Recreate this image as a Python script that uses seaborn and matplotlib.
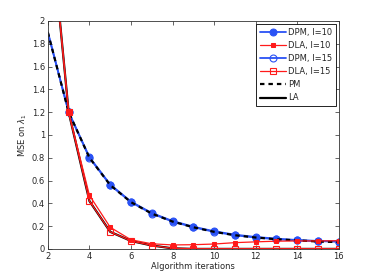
import numpy as np
import pandas as pd
import matplotlib
matplotlib.use("Agg")
import matplotlib.pyplot as plt
import seaborn as sns

iters = [2, 3, 4, 5, 6, 7, 8, 9, 10, 11, 12, 13, 14, 15, 16]
pm = [1.9, 1.2, 0.8, 0.56, 0.41, 0.31, 0.24, 0.19, 0.15, 0.12, 0.10, 0.085, 0.075, 0.065, 0.06]
dpm10 = [1.9, 1.2, 0.805, 0.565, 0.415, 0.315, 0.245, 0.195, 0.155, 0.125, 0.105, 0.09, 0.078, 0.07, 0.065]
dpm15 = [1.9, 1.2, 0.8, 0.56, 0.41, 0.31, 0.24, 0.19, 0.15, 0.12, 0.10, 0.085, 0.075, 0.068, 0.065]
dla10 = [3.1, 1.2, 0.47, 0.19, 0.08, 0.045, 0.035, 0.037, 0.043, 0.055, 0.062, 0.068, 0.07, 0.07, 0.072]
dla15 = [3.1, 1.2, 0.42, 0.15, 0.07, 0.03, 0.005, 0.002, 0.002, 0.002, 0.002, 0.002, 0.002, 0.002, 0.002]
la = [3.1, 1.2, 0.42, 0.15, 0.07, 0.03, 0.005, 0.0, 0.0, 0.0, 0.0, 0.0, 0.0, 0.0, 0.0]

labels = ["DPM, I=10", "DLA, I=10", "DPM, I=15", "DLA, I=15", "PM", "LA"]

BLUE = '#2a52f5'
RED = '#ff1a1a'

sns.set_theme(style="ticks")
plt.rcParams['font.family'] = ['DejaVu Sans']

fig = plt.figure(figsize=(3.74, 2.8), dpi=100)
ax = fig.add_axes([0.128, 0.111, 0.778, 0.814])

me = slice(1, None)
sns.lineplot(x=iters, y=dpm10, ax=ax, color=BLUE, lw=1.3, marker='o', ms=5,
             mfc=BLUE, mec=BLUE, markevery=me, label=labels[0])
sns.lineplot(x=iters, y=dpm15, ax=ax, color=BLUE, lw=1.3, marker='o', ms=5,
             mfc='none', mec=BLUE, mew=0.8, markevery=me, label=labels[2])
sns.lineplot(x=iters, y=pm, ax=ax, color='black', lw=1.6, label=labels[4])
pm_line = ax.lines[-1]
pm_line.set_linestyle((0, (2.0, 1.8)))
sns.lineplot(x=iters, y=la, ax=ax, color='black', lw=1.6, label=labels[5])
sns.lineplot(x=iters, y=dla10, ax=ax, color=RED, lw=0.9, marker='s', ms=3.5,
             mfc=RED, mec=RED, markevery=me, label=labels[1])
sns.lineplot(x=iters, y=dla15, ax=ax, color=RED, lw=0.9, marker='s', ms=4.2,
             mfc='none', mec=RED, mew=0.8, markevery=me, label=labels[3])

ax.set_xlim(2, 16)
ax.set_ylim(0, 2)
ax.set_xticks(np.arange(2, 17, 2))
ax.set_yticks(np.arange(0, 2.01, 0.2))
ax.set_yticklabels(["0", "0.2", "0.4", "0.6", "0.8", "1", "1.2", "1.4", "1.6", "1.8", "2"])
ax.tick_params(direction='in', top=True, right=True, labelsize=6, length=3, width=0.5, pad=2)
for s in ax.spines.values():
    s.set_linewidth(0.6)
    s.set_color('#333333')
ax.set_xlabel("Algorithm iterations", fontsize=6, labelpad=1)
ax.set_ylabel("MSE on $\\lambda_1$", fontsize=6, labelpad=2)

handles, labs = ax.get_legend_handles_labels()
hmap = dict(zip(labs, handles))
leg = ax.legend([hmap[l] for l in labels], labels, loc='upper right', fontsize=6, frameon=True,
                fancybox=False, edgecolor='black', framealpha=1, borderpad=0.4,
                labelspacing=0.5, handlelength=3.2, handletextpad=0.2, borderaxespad=0.4)
leg.get_frame().set_linewidth(0.6)

fig.savefig("out.png", dpi=100)
